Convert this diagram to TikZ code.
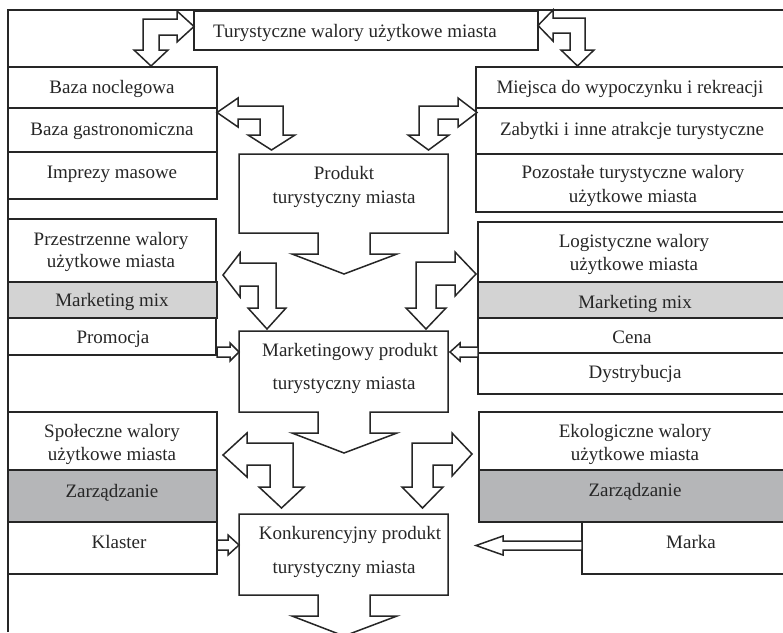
\documentclass[tikz,border=0pt]{standalone}
\usepackage{fontspec}
\setmainfont{Liberation Serif}
\usetikzlibrary{calc}
\definecolor{ln}{HTML}{262626}
\definecolor{mixgray}{HTML}{D3D3D3}
\definecolor{zgray}{HTML}{B5B6B8}
\tikzset{
  cellbox/.style={draw=ln, line width=1.5pt, inner sep=0pt, outer sep=0pt, anchor=north west},
  holder/.style={inner sep=0pt, outer sep=0pt, anchor=north west},
  lbl/.style={anchor=base, inner sep=0pt, text=ln, font=\fontsize{19}{22}\selectfont},
  blockarrow/.style={draw=ln, line width=1.5pt, fill=white, line join=miter},
  framestyle/.style={draw=ln, line width=2pt},
}
\newcommand{\mycell}[6][white]{\node[cellbox, fill=#1, minimum width={(#5-#3)*1pt}, minimum height={(#6-#4)*1pt}] (#2) at (#3,#4) {};}
\begin{document}
\begin{tikzpicture}[x=1pt,y=-1pt]
\useasboundingbox (0,0) rectangle (783,632);
\fill[white] (0,0) rectangle (783,632);
\clip (0,0) rectangle (783,632);
% frame
\coordinate (fbl) at (8,632);
\coordinate (ftl) at (8,10);
\coordinate (ftr) at (783,10);
\draw[framestyle] (fbl) -- (ftl) -- (ftr);
% top box
\node[cellbox, line width=1.7pt, minimum width=344pt, minimum height=39pt, fill=white] (top) at (194,11) {};
% left upper stack
\mycell{lu1}{8}{67}{217}{108}
\mycell{lu2}{8}{108}{217}{152}
\mycell{lu3}{8}{152}{217}{199}
% right upper stack
\mycell{ru1}{476}{67}{790}{108}
\mycell{ru2}{476}{108}{790}{154}
\mycell{ru3}{476}{154}{790}{212}
% left middle stack
\mycell{lm1}{8}{219}{216}{282}
\mycell[mixgray]{lm2}{8}{282}{217}{318}
\mycell{lm3}{8}{318}{216}{355}
% right middle stack
\mycell{rm1}{478}{222}{790}{282}
\mycell[mixgray]{rm2}{478}{282}{790}{318}
\mycell{rm3}{478}{318}{790}{353}
\mycell{rm4}{478}{353}{790}{394}
% left lower stack
\mycell{ll1}{8}{412}{217}{470}
\mycell[zgray]{ll2}{8}{470}{217}{522}
\mycell{ll3}{8}{522}{217}{574}
% right lower stack
\mycell{rl1}{479}{412}{790}{470}
\mycell[zgray]{rl2}{479}{470}{790}{522}
\mycell{rl3}{582}{522}{790}{574}
% central boxes with down arrows
\node[holder, minimum width=209pt, minimum height=79pt] (prod) at (239,154) {};
\node[holder, minimum width=209pt, minimum height=81pt] (mkt) at (239,331) {};
\node[holder, minimum width=209pt, minimum height=81pt] (konk) at (239,514) {};
\foreach \b in {prod,mkt,konk}{
  \draw[blockarrow] (\b.north west) -- (\b.north east) -- (\b.south east) -- ++(-78,0) -- ++(0,21) -- ++(27,0) -- ++(-53,20) -- ++(-52,-20) -- ++(26,0) -- ++(0,-21) -- (\b.south west) -- cycle;
}
% bent double arrows
\draw[blockarrow] (194,26.5) -- (177,11) -- (177,19) -- (143,19) -- (143,50) -- (134,50) -- (151,66) -- (168,50) -- (159,50) -- (159,35) -- (177,35) -- (177,42) -- cycle;
\draw[blockarrow] (538,25.5) -- (553,10) -- (553,18) -- (585,18) -- (585,50) -- (594,50) -- (577.5,66) -- (561,50) -- (570,50) -- (570,33) -- (553,33) -- (553,41) -- cycle;
\draw[blockarrow] (217,112.5) -- (238,98) -- (238,106) -- (283,106) -- (283,135) -- (295,135) -- (271.5,150) -- (248,135) -- (260,135) -- (260,119) -- (238,119) -- (238,127) -- cycle;
\draw[blockarrow] (477,112.5) -- (458,98) -- (458,106) -- (419,106) -- (419,135) -- (408,135) -- (428.5,150) -- (449,135) -- (438,135) -- (438,119) -- (458,119) -- (458,127) -- cycle;
\draw[blockarrow] (223,275) -- (240,253) -- (240,263) -- (276,263) -- (276,308) -- (286,308) -- (267,329) -- (248,308) -- (258,308) -- (258,286) -- (240,286) -- (240,297) -- cycle;
\draw[blockarrow] (476,274) -- (455,252) -- (455,262) -- (416,262) -- (416,308) -- (406,308) -- (426,329) -- (446,308) -- (436,308) -- (436,285) -- (455,285) -- (455,296) -- cycle;
\draw[blockarrow] (223,455) -- (247,433) -- (247,443) -- (293,443) -- (293,487) -- (304,487) -- (281.5,508) -- (259,487) -- (270,487) -- (270,465) -- (247,465) -- (247,477) -- cycle;
\draw[blockarrow] (472,454) -- (452,433) -- (452,443) -- (412,443) -- (412,487) -- (402,487) -- (422.5,508) -- (443,487) -- (433,487) -- (433,465) -- (452,465) -- (452,476) -- cycle;
% small horizontal arrows
\draw[blockarrow] (217,347) -- (230,347) -- (230,343) -- (239,352) -- (230,361) -- (230,357) -- (217,357) -- cycle;
\draw[blockarrow] (478,347) -- (460,347) -- (460,343) -- (450,352) -- (460,361) -- (460,357) -- (478,357) -- cycle;
\draw[blockarrow] (217,540) -- (228,540) -- (228,535) -- (239,545) -- (228,555) -- (228,550) -- (217,550) -- cycle;
\draw[blockarrow] (582,541) -- (503,541) -- (503,536) -- (476,545.5) -- (503,555) -- (503,550) -- (582,550) -- cycle;
% labels
\node[lbl] (t0) at (355,37) {Turystyczne walory użytkowe miasta};
\node[lbl] (t1) at (112,93) {Baza noclegowa};
\node[lbl] (t2) at (112,135) {Baza gastronomiczna};
\node[lbl] (t3) at (112,178) {Imprezy masowe};
\node[lbl] (t4) at (630,93) {Miejsca do wypoczynku i rekreacji};
\node[lbl] (t5) at (632,135) {Zabytki i inne atrakcje turystyczne};
\node[lbl] (t6) at (633,178) {Pozostałe turystyczne walory};
\node[lbl] (t7) at (633,202) {użytkowe miasta};
\node[lbl] (t8) at (344,179) {Produkt};
\node[lbl] (t9) at (344,203) {turystyczny miasta};
\node[lbl] (t10) at (111,245) {Przestrzenne walory};
\node[lbl] (t11) at (111,267) {użytkowe miasta};
\node[lbl] (t12) at (112,306) {Marketing mix};
\node[lbl] (t13) at (113,343) {Promocja};
\node[lbl] (t14) at (634,247) {Logistyczne walory};
\node[lbl] (t15) at (634,270) {użytkowe miasta};
\node[lbl] (t16) at (635,308) {Marketing mix};
\node[lbl] (t17) at (632,343) {Cena};
\node[lbl] (t18) at (635,378) {Dystrybucja};
\node[lbl] (t19) at (350,356) {Marketingowy produkt};
\node[lbl] (t20) at (344,389) {turystyczny miasta};
\node[lbl] (t21) at (112,437) {Społeczne walory};
\node[lbl] (t22) at (112,460) {użytkowe miasta};
\node[lbl] (t23) at (112,497) {Zarządzanie};
\node[lbl] (t24) at (119,548) {Klaster};
\node[lbl] (t25) at (635,437) {Ekologiczne walory};
\node[lbl] (t26) at (635,460) {użytkowe miasta};
\node[lbl] (t27) at (635,496) {Zarządzanie};
\node[lbl] (t28) at (691,548) {Marka};
\node[lbl] (t29) at (350,539) {Konkurencyjny produkt};
\node[lbl] (t30) at (344,573) {turystyczny miasta};
\end{tikzpicture}
\end{document}
